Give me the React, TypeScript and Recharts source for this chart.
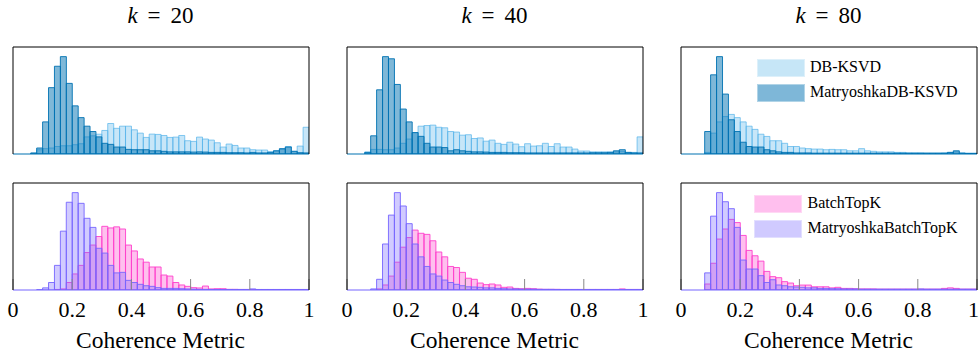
import React from "react";
import { BarChart, Bar, XAxis, YAxis } from "recharts";

// histogram bins of width 0.02 over [0, 1], values are bar heights in % of the panel
const bins = Array.from({ length: 50 }, (_, i) => +(0.01 + i * 0.02).toFixed(2));
const xTicks = [0, 0.2, 0.4, 0.6, 0.8, 1];
const kValues = [20, 40, 80];

const dbksvdK20 = [
  0, 0, 0, 0.6, 4, 5, 5.6, 7, 7.7, 7.7,
  8.7, 9.6, 16, 17, 18.5, 22, 28.5, 24, 26, 26,
  22.6, 19.5, 15.5, 18.6, 18.3, 17.3, 15.5, 15.8, 17.3, 12.4,
  11.8, 15.8, 14, 13, 10.5, 6.5, 9.3, 8, 5.6, 5.6,
  4, 3.7, 3.7, 2.2, 3, 4.3, 7, 2.5, 7.4, 25,
];
const matDbksvdK20 = [
  0, 0, 0, 1, 5.6, 30, 62, 82, 91, 66,
  45, 34, 26, 21, 16, 10, 9, 6.5, 6.5, 4.3,
  4, 4, 4, 3, 3, 2.5, 2, 2, 2, 2,
  1.8, 2, 1.8, 1.5, 1.5, 1.5, 1.2, 1.2, 1.2, 1,
  1.5, 1, 1, 1.5, 3, 5, 6.5, 2.5, 1.2, 1,
];
const dbksvdK40 = [
  0, 0, 0, 1.9, 4.3, 4.3, 4, 4, 5.6, 10,
  14, 20, 26, 26.6, 27, 25, 24.5, 21, 20.5, 17.6,
  18, 14.5, 15, 12, 13, 10, 9, 11, 9.3, 6.8,
  9.6, 7.4, 7.7, 10, 7, 9.6, 6.5, 6.5, 4.6, 2.8,
  2.8, 2, 2, 2, 2, 2, 2.5, 1.5, 1.5, 16,
];
const matDbksvdK40 = [
  0, 0, 0, 1.5, 17, 60, 91, 89, 65, 42,
  30, 20, 16.5, 10, 6.5, 6.5, 6, 3, 4, 3,
  2.5, 2, 2, 1.8, 1.5, 1.5, 1.5, 1.2, 1.2, 1.2,
  1, 1, 1, 1, 1, 1, 1, 1, 1, 1,
  1, 1.2, 1.2, 1.2, 1.5, 3, 4, 1.5, 1, 1,
];
const dbksvdK80 = [
  0, 0, 0, 0, 1.5, 19.5, 30, 35, 37, 34,
  30, 26, 23, 18.5, 16.4, 12.4, 12.4, 10, 7, 7,
  5.6, 5, 4.6, 4.6, 4, 4.3, 4, 4, 3, 3,
  5, 3, 2.5, 2, 2, 2, 1.5, 1.5, 1, 1,
  1, 0.8, 0.8, 0.8, 1, 1.5, 2, 1, 0.8, 0.8,
];
const matDbksvdK80 = [
  0, 0, 0, 0, 21, 74, 91, 56, 32, 21,
  11, 7, 6.5, 6.5, 4, 3, 2, 1.5, 1.5, 1,
  1, 1, 0.8, 0.8, 0.8, 0.8, 0.8, 0.8, 0.8, 0.8,
  0.8, 0.8, 0.8, 0.8, 0.8, 0.8, 0.8, 0.8, 0.8, 0.8,
  0.8, 0.8, 0.8, 0.8, 0.8, 1.5, 3, 0.8, 0.5, 0.5,
];
const batchTopkK20 = [
  0, 0, 0, 0, 0, 0, 0, 0.5, 1, 7,
  15, 23, 35, 42, 50, 59.5, 58, 59, 57, 42,
  36.5, 29, 26, 21.5, 21.5, 14, 13, 7, 4.7, 3.4,
  2.2, 1.9, 3.7, 1, 1.2, 1.2, 0.6, 0.6, 0.5, 0.5,
  0.5, 0.4, 0.4, 0.4, 0.3, 0.3, 0.3, 0.3, 0.3, 0.3,
];
const matBatchTopkK20 = [
  0, 0, 0, 0, 0.3, 2, 7, 23, 55, 82,
  91, 81, 67, 58.5, 39, 34.5, 23, 16, 16.5, 9,
  7, 5.3, 4, 3.4, 2.2, 1.5, 1.5, 1.5, 1.2, 1,
  0.8, 0.6, 0.6, 0.5, 0.5, 0.5, 0.5, 0.5, 0.5, 0.5,
  1, 0.5, 0.5, 0.5, 0.5, 0.5, 0.5, 0.5, 0.5, 0.5,
];
const batchTopkK40 = [
  0, 0, 0, 0, 0, 1, 4.7, 13, 26, 40,
  49, 56, 53, 52, 46, 35.5, 31, 22, 21, 16.5,
  11, 10, 6.5, 5, 5.6, 4.7, 2.5, 2.8, 1.5, 1.2,
  1.5, 1.2, 0.8, 0.6, 0.6, 0.6, 0.5, 0.5, 0.5, 0.5,
  0.5, 0.5, 0.5, 0.5, 0.5, 0.5, 1, 0.5, 0.5, 0.5,
];
const matBatchTopkK40 = [
  0, 0, 0, 0, 1, 10, 43, 70, 91, 78.5,
  62, 43, 31, 22, 15, 13, 9.3, 7, 5.3, 4,
  3, 2.8, 2.5, 2, 2, 1.5, 1.2, 1, 1, 0.8,
  0.8, 0.8, 0.6, 0.6, 0.6, 0.5, 0.5, 0.5, 0.5, 0.5,
  0.5, 0.5, 0.5, 0.5, 0.5, 0.5, 0.5, 0.5, 0.5, 0.5,
];
const batchTopkK80 = [
  0, 0, 0, 0, 5.6, 25, 47.6, 57, 66, 63,
  51, 37, 32, 27, 17.4, 12.5, 11.5, 7.8, 6.5, 4,
  4.6, 4.6, 3, 3, 3, 2, 2.5, 1.5, 1.5, 1.2,
  1, 1, 1, 0.8, 0.8, 0.8, 0.8, 0.8, 0.8, 0.8,
  0.8, 0.8, 0.8, 0.8, 1.5, 2, 1.5, 0.8, 0.8, 0.8,
];
const matBatchTopkK80 = [
  0, 0, 0, 0, 16, 69, 91, 82.5, 76, 58.5,
  28, 19.6, 19.6, 13.4, 7, 9.6, 4.7, 4, 3, 2.8,
  2.5, 2, 2, 1.5, 1.5, 1.2, 1.2, 1, 1, 1,
  0.8, 0.8, 0.8, 0.8, 0.8, 0.8, 0.8, 0.8, 0.8, 0.8,
  1, 0.8, 0.8, 0.8, 0.8, 0.8, 0.8, 0.8, 0.8, 0.8,
];

const FONT = '"Liberation Serif", "Times New Roman", serif';

const BLUE_LIGHT = "#56B4E9";
const BLUE_DARK = "#0072B2";
const PINK = "#FF40CC";
const PURPLE = "#7766FF";

const PLOT_W = 296;
const PLOT_H = 107;
const PAD = 10;
const colLeft = [12.5, 346.5, 680.5];
const rowTop = [47, 182.5];
const LABEL_MAX_X = 973; // keep the last tick label inside the page

type SeriesStyle = { color: string; fillOpacity: number; strokeOpacity: number };

const styles: Record<string, SeriesStyle> = {
  dbksvd: { color: BLUE_LIGHT, fillOpacity: 0.33, strokeOpacity: 0.7 },
  matDbksvd: { color: BLUE_DARK, fillOpacity: 0.5, strokeOpacity: 0.9 },
  batchTopk: { color: PINK, fillOpacity: 0.33, strokeOpacity: 0.9 },
  matBatchTopk: { color: PURPLE, fillOpacity: 0.34, strokeOpacity: 0.9 },
};

const XTick = (props: any) => {
  const { x, y, payload, maxX } = props;
  return (
    <text x={Math.min(x, maxX)} y={y} dy="0.71em" textAnchor="middle" fontFamily={FONT} fontSize={22} fill="#000">
      {String(payload.value)}
    </text>
  );
};

type PanelProps = {
  left: number;
  top: number;
  first: number[];
  second: number[];
  firstStyle: SeriesStyle;
  secondStyle: SeriesStyle;
  showLabels: boolean;
};

const Panel = ({ left, top, first, second, firstStyle, secondStyle, showLabels }: PanelProps) => {
  const data = bins.map((x, i) => ({ x, a: first[i], b: second[i] }));
  const bottomPad = showLabels ? 40 : PAD;
  const maxX = LABEL_MAX_X - (left - PAD);
  return (
    <div style={{ position: "absolute", left: left - PAD, top: top - PAD }}>
      <BarChart
        width={PLOT_W + 2 * PAD}
        height={PLOT_H + PAD + bottomPad}
        data={data}
        margin={{ top: PAD - 1, right: PAD - 1, bottom: bottomPad - 1, left: PAD - 1 }}
        barCategoryGap={0}
        barGap={0}
      >
        <Bar
          xAxisId="bot"
          yAxisId="l"
          dataKey="a"
          fill={firstStyle.color}
          fillOpacity={firstStyle.fillOpacity}
          stroke={firstStyle.color}
          strokeOpacity={firstStyle.strokeOpacity}
          strokeWidth={1}
          isAnimationActive={false}
        />
        <Bar
          xAxisId="top"
          yAxisId="r"
          dataKey="b"
          fill={secondStyle.color}
          fillOpacity={secondStyle.fillOpacity}
          stroke={secondStyle.color}
          strokeOpacity={secondStyle.strokeOpacity}
          strokeWidth={1}
          isAnimationActive={false}
        />
        <XAxis
          xAxisId="bot"
          dataKey="x"
          type="number"
          domain={[0, 1]}
          allowDataOverflow
          ticks={xTicks}
          interval={0}
          height={1}
          tickSize={-11}
          tickMargin={22}
          axisLine={{ stroke: secondStyle.color, strokeWidth: 1.2 }}
          tickLine={{ stroke: "#888" }}
          tick={showLabels ? (p: any) => <XTick {...p} maxX={maxX} /> : false}
        />
        <XAxis
          xAxisId="top"
          orientation="top"
          dataKey="x"
          type="number"
          domain={[0, 1]}
          allowDataOverflow
          ticks={xTicks}
          interval={0}
          height={1}
          tickSize={-11}
          axisLine={{ stroke: "#000" }}
          tickLine={{ stroke: "#888" }}
          tick={false}
        />
        <YAxis yAxisId="l" domain={[0, 100]} allowDataOverflow width={1} tick={false} tickLine={false} axisLine={{ stroke: "#000" }} />
        <YAxis
          yAxisId="r"
          orientation="right"
          domain={[0, 100]}
          allowDataOverflow
          width={1}
          tick={false}
          tickLine={false}
          axisLine={{ stroke: "#000" }}
        />
      </BarChart>
    </div>
  );
};

const LegendBox = ({ left, top, items }: { left: number; top: number; items: { name: string; style: SeriesStyle }[] }) => (
  <div style={{ position: "absolute", left, top, fontFamily: FONT, fontSize: 16, color: "#000" }}>
    {items.map((it) => (
      <div key={it.name} style={{ display: "flex", alignItems: "center", height: 17.5, marginBottom: 7.3 }}>
        <div
          style={{
            width: 48,
            height: 17.5,
            boxSizing: "border-box",
            background: it.style.color,
            opacity: it.style.fillOpacity,
            border: "1px solid rgba(255,255,255,0.4)",
          }}
        />
        <span style={{ marginLeft: 5.5, whiteSpace: "nowrap", position: "relative", top: -1 }}>{it.name}</span>
      </div>
    ))}
  </div>
);

const topRow = [
  [dbksvdK20, matDbksvdK20],
  [dbksvdK40, matDbksvdK40],
  [dbksvdK80, matDbksvdK80],
];
const bottomRow = [
  [batchTopkK20, matBatchTopkK20],
  [batchTopkK40, matBatchTopkK40],
  [batchTopkK80, matBatchTopkK80],
];

export default function App() {
  return (
    <div style={{ position: "absolute", left: 0, top: 0, width: 980, height: 356, background: "#fff", overflow: "hidden" }}>
      {topRow.map(([a, b], c) => (
        <Panel
          key={"t" + c}
          left={colLeft[c]}
          top={rowTop[0]}
          first={a}
          second={b}
          firstStyle={styles.dbksvd}
          secondStyle={styles.matDbksvd}
          showLabels={false}
        />
      ))}
      {bottomRow.map(([a, b], c) => (
        <Panel
          key={"b" + c}
          left={colLeft[c]}
          top={rowTop[1]}
          first={a}
          second={b}
          firstStyle={styles.batchTopk}
          secondStyle={styles.matBatchTopk}
          showLabels={true}
        />
      ))}
      <svg width={980} height={356} style={{ position: "absolute", left: 0, top: 0, pointerEvents: "none" }}>
        {kValues.map((k, c) => (
          <text key={"k" + k} x={colLeft[c] + PLOT_W / 2} y={22.7} textAnchor="middle" fontFamily={FONT} fontSize={23} fill="#000">
            <tspan fontStyle="italic">k</tspan>
            <tspan dx={10}>=</tspan>
            <tspan dx={10}>{k}</tspan>
          </text>
        ))}
        {kValues.map((k, c) => (
          <text key={"x" + k} x={colLeft[c] + PLOT_W / 2} y={348} textAnchor="middle" fontFamily={FONT} fontSize={23.5} fill="#000">
            Coherence Metric
          </text>
        ))}
      </svg>
      <LegendBox
        left={756.5}
        top={59.3}
        items={[
          { name: "DB-KSVD", style: styles.dbksvd },
          { name: "MatryoshkaDB-KSVD", style: styles.matDbksvd },
        ]}
      />
      <LegendBox
        left={754}
        top={195.3}
        items={[
          { name: "BatchTopK", style: styles.batchTopk },
          { name: "MatryoshkaBatchTopK", style: styles.matBatchTopk },
        ]}
      />
    </div>
  );
}
